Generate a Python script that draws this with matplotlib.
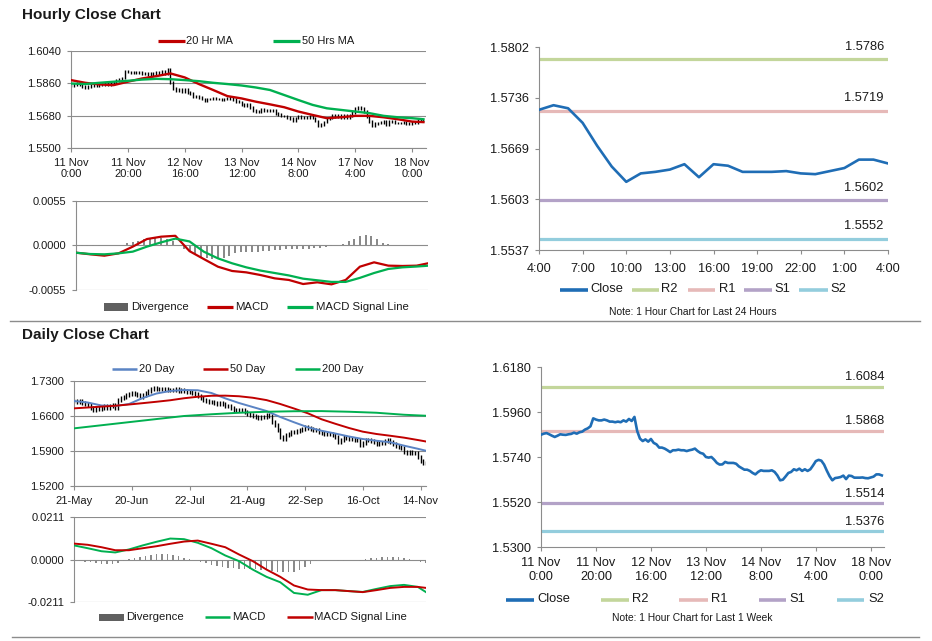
import matplotlib
matplotlib.use('Agg')
import matplotlib.pyplot as plt
import numpy as np

plt.rcParams['font.family'] = ['Liberation Sans', 'DejaVu Sans']

# ---------------- DATA ----------------
# hourly closes, 11 Nov 0:00 .. 18 Nov 4:00 (125 bars)
hourly_close = [
    1.5849, 1.5854, 1.5857, 1.5851, 1.5844, 1.5838, 1.5844, 1.5851, 1.5849, 1.5848,
    1.5851, 1.5853, 1.5859, 1.5854, 1.5861, 1.5864, 1.5874, 1.5880, 1.5890, 1.5929,
    1.5923, 1.5919, 1.5919, 1.5923, 1.5919, 1.5913, 1.5913, 1.5910, 1.5913, 1.5910,
    1.5919, 1.5913, 1.5926, 1.5916, 1.5936, 1.5867, 1.5830, 1.5818, 1.5826, 1.5815,
    1.5828, 1.5809, 1.5802, 1.5786, 1.5786, 1.5781, 1.5773, 1.5764, 1.5773, 1.5773,
    1.5776, 1.5773, 1.5773, 1.5769, 1.5773, 1.5776, 1.5781, 1.5769, 1.5760, 1.5756,
    1.5740, 1.5737, 1.5740, 1.5727, 1.5711, 1.5703, 1.5704, 1.5716, 1.5711, 1.5711,
    1.5711, 1.5707, 1.5694, 1.5686, 1.5678, 1.5678, 1.5672, 1.5662, 1.5655, 1.5667,
    1.5675, 1.5672, 1.5672, 1.5672, 1.5675, 1.5667, 1.5650, 1.5626, 1.5629, 1.5645,
    1.5662, 1.5667, 1.5680, 1.5675, 1.5683, 1.5672, 1.5680, 1.5672, 1.5680, 1.5699,
    1.5720, 1.5726, 1.5722, 1.5703, 1.5673, 1.5646, 1.5626, 1.5637, 1.5639, 1.5642,
    1.5649, 1.5632, 1.5649, 1.5647, 1.5639, 1.5639, 1.5639, 1.5640, 1.5637, 1.5636,
    1.5640, 1.5644, 1.5655, 1.5655, 1.5650]
hourly_tick_pos = [0, 20, 40, 60, 80, 100, 120]
hourly_tick_labels = ['11 Nov\n0:00', '11 Nov\n20:00', '12 Nov\n16:00', '13 Nov\n12:00',
                      '14 Nov\n8:00', '17 Nov\n4:00', '18 Nov\n0:00']

hourly_ma_x = [0, 5, 10, 15, 20, 25, 30, 35, 40, 45, 50, 55, 60, 65, 70, 75, 80, 85,
               90, 95, 100, 105, 110, 115, 120, 124]
ma20_hr = [1.5878, 1.5863, 1.5854, 1.5850, 1.5869, 1.5887, 1.5900, 1.5915, 1.5893, 1.5856,
           1.5823, 1.5789, 1.5776, 1.5758, 1.5743, 1.5727, 1.5703, 1.5684, 1.5666, 1.5671,
           1.5679, 1.5679, 1.5671, 1.5660, 1.5647, 1.5644]
ma50_hr = [1.5859, 1.5856, 1.5863, 1.5869, 1.5874, 1.5881, 1.5885, 1.5883, 1.5878, 1.5872,
           1.5863, 1.5856, 1.5848, 1.5837, 1.5823, 1.5795, 1.5767, 1.5740, 1.5721, 1.5712,
           1.5703, 1.5694, 1.5679, 1.5671, 1.5666, 1.5660]
macd_hr = [-0.00089, -0.00109, -0.00126, -0.00097, -0.00014, 0.00080, 0.00109, 0.00120,
           -0.00070, -0.00167, -0.00262, -0.00315, -0.00332, -0.00365, -0.00406, -0.00426,
           -0.00476, -0.00455, -0.00480, -0.00426, -0.00262, -0.00208, -0.00249, -0.00253,
           -0.00249, -0.00220]
signal_hr = [-0.00089, -0.00105, -0.00109, -0.00097, -0.00076, -0.00014, 0.00039, 0.00085,
             0.00050, -0.00076, -0.00159, -0.00220, -0.00270, -0.00310, -0.00340, -0.00370,
             -0.00410, -0.00430, -0.00450, -0.00450, -0.00400, -0.00340, -0.00290, -0.00270,
             -0.00260, -0.00250]
div_hr_x = list(range(0, 125, 2))
div_hr = [-0.00005, -0.00005, -0.00005, -0.00005, -0.00003, 0.0, 0.00003, 0.00005, 0.0001, 0.00025,
          0.0004, 0.0006, 0.00075, 0.00085, 0.0009, 0.0009, 0.0008, 0.0006, 0.0, -0.0004,
          -0.0008, -0.0011, -0.0014, -0.0016, -0.0017, -0.0017, -0.0016, -0.0013, -0.0009, -0.0008,
          -0.0008, -0.0008, -0.0008, -0.0007, -0.0007, -0.0006, -0.0005, -0.00045, -0.00045, -0.00045,
          -0.0004, -0.0004, -0.00035, -0.0003, -0.0002, -0.0001, 0.0, 0.0002, 0.0005, 0.0008,
          0.0012, 0.0013, 0.0012, 0.0008, 0.0003, 0.00015, 0.0001, 0.00005, 0.00005, 0.00003,
          0.00003, 0.00005, 0.00005]

# last 24 hours chart (17 Nov 4:00 .. 18 Nov 4:00)
day_tick_labels = ['4:00', '7:00', '10:00', '13:00', '16:00', '19:00', '22:00', '1:00', '4:00']
day_yticks = [1.5537, 1.5603, 1.5669, 1.5736, 1.5802]
day_levels = [1.5786, 1.5719, 1.5602, 1.5552]
week_levels = [1.6084, 1.5868, 1.5514, 1.5376]
level_names = ['R2', 'R1', 'S1', 'S2']

# daily closes 21-May .. 17-Nov (129 bars)
daily_close = [
    1.6895, 1.6890, 1.6898, 1.6861, 1.6848, 1.6815, 1.6768, 1.6728, 1.6768, 1.6748,
    1.6768, 1.6795, 1.6768, 1.6795, 1.6815, 1.6768, 1.6915, 1.6968, 1.6981, 1.7014,
    1.7034, 1.7061, 1.7034, 1.7014, 1.6981, 1.7014, 1.7061, 1.7101, 1.7147, 1.7160,
    1.7147, 1.7147, 1.7134, 1.7147, 1.7127, 1.7127, 1.7114, 1.7147, 1.7101, 1.7114,
    1.7101, 1.7081, 1.7081, 1.7061, 1.7034, 1.6994, 1.6968, 1.6928, 1.6901, 1.6881,
    1.6881, 1.6861, 1.6848, 1.6861, 1.6835, 1.6795, 1.6795, 1.6768, 1.6715, 1.6728,
    1.6715, 1.6715, 1.6682, 1.6635, 1.6615, 1.6596, 1.6582, 1.6569, 1.6582, 1.6582,
    1.6615, 1.6602, 1.6483, 1.6416, 1.6316, 1.6183, 1.6150, 1.6217, 1.6250, 1.6283,
    1.6283, 1.6303, 1.6316, 1.6350, 1.6383, 1.6370, 1.6350, 1.6330, 1.6316, 1.6283,
    1.6263, 1.6250, 1.6250, 1.6250, 1.6217, 1.6183, 1.6084, 1.6130, 1.6183, 1.6170,
    1.6150, 1.6150, 1.6130, 1.6117, 1.6017, 1.6051, 1.6117, 1.6130, 1.6104, 1.6084,
    1.6037, 1.6064, 1.6051, 1.6104, 1.6117, 1.6084, 1.6037, 1.5997, 1.5984, 1.5951,
    1.5884, 1.5851, 1.5884, 1.5864, 1.5851, 1.5785, 1.5705, 1.5652, 1.5665]
daily_tick_pos = [0, 21, 42, 63, 84, 105, 126]
daily_tick_labels = ['21-May', '20-Jun', '22-Jul', '21-Aug', '22-Sep', '16-Oct', '14-Nov']

daily_ma_x = [0, 5, 10, 15, 20, 25, 30, 35, 40, 45, 50, 55, 60, 65, 70, 75, 80, 85, 90,
              95, 100, 105, 110, 115, 120, 125, 128]
ma20_d = [1.6900, 1.6870, 1.6810, 1.6800, 1.6840, 1.6960, 1.7050, 1.7100, 1.7120, 1.7115,
          1.7060, 1.6953, 1.6860, 1.6780, 1.6700, 1.6580, 1.6475, 1.6375, 1.6305, 1.6250,
          1.6190, 1.6140, 1.6105, 1.6075, 1.6007, 1.5945, 1.5905]
ma50_d = [1.6753, 1.6770, 1.6788, 1.6805, 1.6830, 1.6857, 1.6885, 1.6915, 1.6955, 1.6985,
          1.7005, 1.7007, 1.6995, 1.6965, 1.6918, 1.6840, 1.6750, 1.6655, 1.6535, 1.6445,
          1.6360, 1.6287, 1.6240, 1.6205, 1.6167, 1.6120, 1.6090]
ma200_x = [0, 10, 20, 30, 40, 50, 60, 70, 80, 90, 100, 110, 120, 128]
ma200_d = [1.6353, 1.6415, 1.6477, 1.6539, 1.6600, 1.6635, 1.6665, 1.6685, 1.6695, 1.6698,
           1.6685, 1.6665, 1.6625, 1.6605]
macd_d = [0.0070, 0.0056, 0.0041, 0.0035, 0.0050, 0.0070, 0.0088, 0.0104, 0.0101, 0.0083,
          0.0056, 0.0020, -0.0008, -0.0050, -0.0086, -0.0113, -0.0166, -0.0175, -0.0152, -0.0152,
          -0.0157, -0.0161, -0.0146, -0.0132, -0.0126, -0.0136, -0.0162]
signal_d = [0.0079, 0.0073, 0.0061, 0.0046, 0.0046, 0.0056, 0.0066, 0.0078, 0.0089, 0.0094,
            0.0078, 0.0061, 0.0025, -0.0008, -0.0050, -0.0086, -0.0129, -0.0149, -0.0152, -0.0152,
            -0.0157, -0.0162, -0.0152, -0.0141, -0.0136, -0.0136, -0.0141]
div_d_x = list(range(0, 129, 2))
div_d = [-0.0005, -0.0007, -0.0010, -0.0013, -0.0018, -0.0022, -0.0023, -0.0022, -0.0015, -0.0008,
         0.0002, 0.0008, 0.0013, 0.0018, 0.0023, 0.0026, 0.0028, 0.0026, 0.0022, 0.0015,
         0.0008, 0.0003, -0.0003, -0.0010, -0.0018, -0.0025, -0.0030, -0.0035, -0.0040, -0.0043,
         -0.0045, -0.0045, -0.0045, -0.0048, -0.0050, -0.0053, -0.0056, -0.0060, -0.0063, -0.0063,
         -0.0060, -0.0050, -0.0035, -0.0020, -0.0008, -0.0003, 0.0, 0.0, -0.0005, -0.0008,
         -0.0003, 0.0, -0.0005, 0.0002, 0.0005, 0.0008, 0.0010, 0.0013, 0.0012, 0.0010,
         0.0008, 0.0003, 0.0, -0.0012, -0.0018]

# ---------------- STYLE / LAYOUT ----------------
W, H = 932, 641
fig = plt.figure(figsize=(W / 100, H / 100), dpi=100)

RED = '#C00000'
GREEN = '#00B050'
BLUE20 = '#5B84C4'
CLOSE = '#1F6DB5'
LEVEL_COLORS = ['#C3D69B', '#E6B9B8', '#B3A2C7', '#93CDDD']
GRID = '#8C8C8C'
DIVC = '#8A8A8A'
TXT = '#1A1A1A'


def add_ax(x0, y0, x1, y1):
    return fig.add_axes([x0 / W, 1 - y1 / H, (x1 - x0) / W, (y1 - y0) / H])


def style(ax, fs, grid=True, xticks=True):
    for s in ['top', 'right']:
        ax.spines[s].set_visible(False)
    ax.spines['left'].set_color(GRID)
    ax.spines['bottom'].set_color(GRID)
    ax.tick_params(axis='both', colors=GRID, labelcolor=TXT, labelsize=fs,
                   length=3, width=0.8, direction='out', pad=4)
    if grid:
        ax.yaxis.grid(True, color=GRID, lw=0.8)
        ax.set_axisbelow(True)
    if not xticks:
        ax.tick_params(axis='x', length=0, labelbottom=False)


def ohlc(ax, x, close, pad, lw):
    close = np.asarray(close)
    opn = np.concatenate([[close[0]], close[:-1]])
    lo = np.minimum(opn, close) - pad
    hi = np.maximum(opn, close) + pad
    ax.vlines(x, lo, hi, color='black', lw=lw, zorder=2)


# ---- Hourly price panel
ax1 = add_ax(71, 51, 426, 148)
x_h = np.arange(len(hourly_close))
ohlc(ax1, x_h, hourly_close, 0.0008, 1.0)
ax1.plot(hourly_ma_x, ma20_hr, color=RED, lw=1.7, zorder=3)
ax1.plot(hourly_ma_x, ma50_hr, color=GREEN, lw=1.7, zorder=3)
ax1.set_xlim(0, 124.9)
ax1.set_ylim(1.5500, 1.6040)
ax1.set_yticks([1.5500, 1.5680, 1.5860, 1.6040])
ax1.set_yticklabels(['%.4f' % v for v in [1.5500, 1.5680, 1.5860, 1.6040]])
ax1.set_xticks(hourly_tick_pos)
ax1.set_xticklabels(hourly_tick_labels)
style(ax1, 8)

# ---- Hourly MACD panel
ax2 = add_ax(76, 201, 428, 290)
ax2.bar(div_hr_x, div_hr, width=0.7, color=DIVC, zorder=2)
ax2.plot(hourly_ma_x, macd_hr, color=RED, lw=1.6, zorder=3)
ax2.plot(hourly_ma_x, signal_hr, color=GREEN, lw=1.6, zorder=3)
ax2.set_xlim(0, 124)
ax2.set_ylim(-0.0055, 0.0055)
ax2.set_yticks([-0.0055, 0.0, 0.0055])
ax2.set_yticklabels(['-0.0055', '0.0000', '0.0055'])
style(ax2, 8, xticks=False)
ax2.spines['bottom'].set_visible(False)

# ---- Last 24 hours panel
ax3 = add_ax(539, 47, 888, 250)
day_close = hourly_close[100:]
x_d = np.arange(len(day_close))
for lvl, c in zip(day_levels, LEVEL_COLORS):
    ax3.axhline(lvl, color=c, lw=2.3, zorder=2)
    ax3.annotate('%.4f' % lvl, xy=(1, lvl), xycoords=('axes fraction', 'data'),
                 xytext=(-3, 8.8), textcoords='offset points', ha='right', va='center',
                 fontsize=9.3, color=TXT)
ax3.plot(x_d, day_close, color=CLOSE, lw=1.9, zorder=3)
ax3.set_xlim(0, 24)
ax3.set_ylim(1.5537, 1.5802)
ax3.set_yticks(day_yticks)
ax3.set_yticklabels(['%.4f' % v for v in day_yticks])
ax3.set_xticks(range(0, 25, 3))
ax3.set_xticklabels(day_tick_labels)
style(ax3, 9.2, grid=False)
ax3.tick_params(axis='x', pad=6)

# ---- Daily price panel
ax4 = add_ax(74, 381, 426, 486)
x_dd = np.arange(len(daily_close))
ohlc(ax4, x_dd, daily_close, 0.004, 1.0)
ax4.plot(daily_ma_x, ma20_d, color=BLUE20, lw=1.4, zorder=3)
ax4.plot(daily_ma_x, ma50_d, color=RED, lw=1.4, zorder=3)
ax4.plot(ma200_x, ma200_d, color=GREEN, lw=1.4, zorder=3)
ax4.set_xlim(0, 128)
ax4.set_ylim(1.52, 1.73)
ax4.set_yticks([1.52, 1.59, 1.66, 1.73])
ax4.set_yticklabels(['%.4f' % v for v in [1.52, 1.59, 1.66, 1.73]])
ax4.set_xticks(daily_tick_pos)
ax4.set_xticklabels(daily_tick_labels)
style(ax4, 8)

# ---- Daily MACD panel
ax5 = add_ax(74, 517, 426, 602)
ax5.bar(div_d_x, div_d, width=0.7, color=DIVC, zorder=2)
ax5.plot(daily_ma_x, macd_d, color=GREEN, lw=1.4, zorder=3)
ax5.plot(daily_ma_x, signal_d, color=RED, lw=1.4, zorder=3)
ax5.set_xlim(0, 128)
ax5.set_ylim(-0.0211, 0.0211)
ax5.set_yticks([-0.0211, 0.0, 0.0211])
ax5.set_yticklabels(['-0.0211', '0.0000', '0.0211'])
style(ax5, 8, xticks=False)
ax5.spines['bottom'].set_visible(False)

# ---- Last week panel
ax6 = add_ax(541, 367, 884, 547)
for lvl, c in zip(week_levels, LEVEL_COLORS):
    ax6.axhline(lvl, color=c, lw=2.3, zorder=2)
    ax6.annotate('%.4f' % lvl, xy=(1, lvl), xycoords=('axes fraction', 'data'),
                 xytext=(0.5, 7.0), textcoords='offset points', ha='right', va='center',
                 fontsize=9.3, color=TXT)
ax6.plot(x_h, hourly_close, color=CLOSE, lw=1.9, zorder=3)
ax6.set_xlim(0, 124.8)
ax6.set_ylim(1.53, 1.618)
wk_yt = [1.530, 1.552, 1.574, 1.596, 1.618]
ax6.set_yticks(wk_yt)
ax6.set_yticklabels(['%.4f' % v for v in wk_yt])
ax6.set_xticks(hourly_tick_pos)
ax6.set_xticklabels(hourly_tick_labels)
style(ax6, 9.2, grid=False)
ax6.tick_params(axis='x', pad=4)

# ---------------- overlay: titles, legends, separators ----------------
ov = fig.add_axes([0, 0, 1, 1], zorder=10)
ov.set_xlim(0, W)
ov.set_ylim(H, 0)
ov.axis('off')
ov.patch.set_alpha(0)


def leg_line(x0, x1, y, color, lw=2.3):
    ov.plot([x0, x1], [y, y], color=color, lw=lw, solid_capstyle='butt')


def leg_text(x, y, s, fs):
    ov.text(x, y, s, fontsize=fs, va='center', ha='left', color=TXT)


ov.text(22, 15, 'Hourly Close Chart', fontsize=11, fontweight='bold', va='center', color=TXT)
ov.text(22, 335, 'Daily Close Chart', fontsize=11, fontweight='bold', va='center', color=TXT)
ov.plot([10, 920], [320.5, 320.5], color=GRID, lw=1.0)
ov.plot([12, 919], [637, 637], color=GRID, lw=1.0)

# hourly price legend
leg_line(158, 185, 41, RED)
leg_text(186, 41, '20 Hr MA', 8)
leg_line(273, 300, 41, GREEN)
leg_text(302, 41, '50 Hrs MA', 8)

# hourly MACD legend
ov.add_patch(plt.Rectangle((104, 303), 24, 7.5, color='#606060', lw=0))
leg_text(131, 306.5, 'Divergence', 8.2)
leg_line(207, 233, 306.5, RED)
leg_text(235, 306.5, 'MACD', 8.2)
leg_line(287, 313, 306.5, GREEN)
leg_text(316, 306.5, 'MACD Signal Line', 8.2)

# 24h legend
leg_line(560, 588, 289.5, CLOSE, lw=2.6)
leg_text(590, 289.5, 'Close', 9.3)
for (x0, x1, xt), name, c in zip([(632, 659, 661), (688, 715, 719), (744, 772, 774), (799, 828, 830)],
                                 level_names, LEVEL_COLORS):
    leg_line(x0, x1, 289.5, c, lw=2.6)
    leg_text(xt, 289.5, name, 9.3)
ov.text(693, 312, 'Note: 1 Hour Chart for Last 24 Hours', fontsize=7.4, ha='center', va='center', color=TXT)

# daily price legend
leg_line(112, 137, 368.5, BLUE20, lw=1.8)
leg_text(139, 368.5, '20 Day', 8)
leg_line(203, 228, 368.5, RED, lw=1.8)
leg_text(230, 368.5, '50 Day', 8)
leg_line(295, 320, 368.5, GREEN, lw=1.8)
leg_text(322, 368.5, '200 Day', 8)

# daily MACD legend
ov.add_patch(plt.Rectangle((99, 613.5), 25, 7.5, color='#606060', lw=0))
leg_text(126, 617, 'Divergence', 8.2)
leg_line(205, 230, 617, GREEN, lw=1.8)
leg_text(232, 617, 'MACD', 8.2)
leg_line(287, 313, 617, RED, lw=1.8)
leg_text(314, 617, 'MACD Signal Line', 8.2)

# week legend
leg_line(506, 534, 599.5, CLOSE, lw=2.6)
leg_text(537, 599.5, 'Close', 9.3)
for (x0, x1, xt), name, c in zip([(601, 629, 632), (679, 708, 711), (759, 786, 789), (837, 864, 868)],
                                 level_names, LEVEL_COLORS):
    leg_line(x0, x1, 599.5, c, lw=2.6)
    leg_text(xt, 599.5, name, 9.3)
ov.text(692, 618, 'Note: 1 Hour Chart for Last 1 Week', fontsize=7.4, ha='center', va='center', color=TXT)

fig.savefig('out.png', dpi=100, facecolor='white')
